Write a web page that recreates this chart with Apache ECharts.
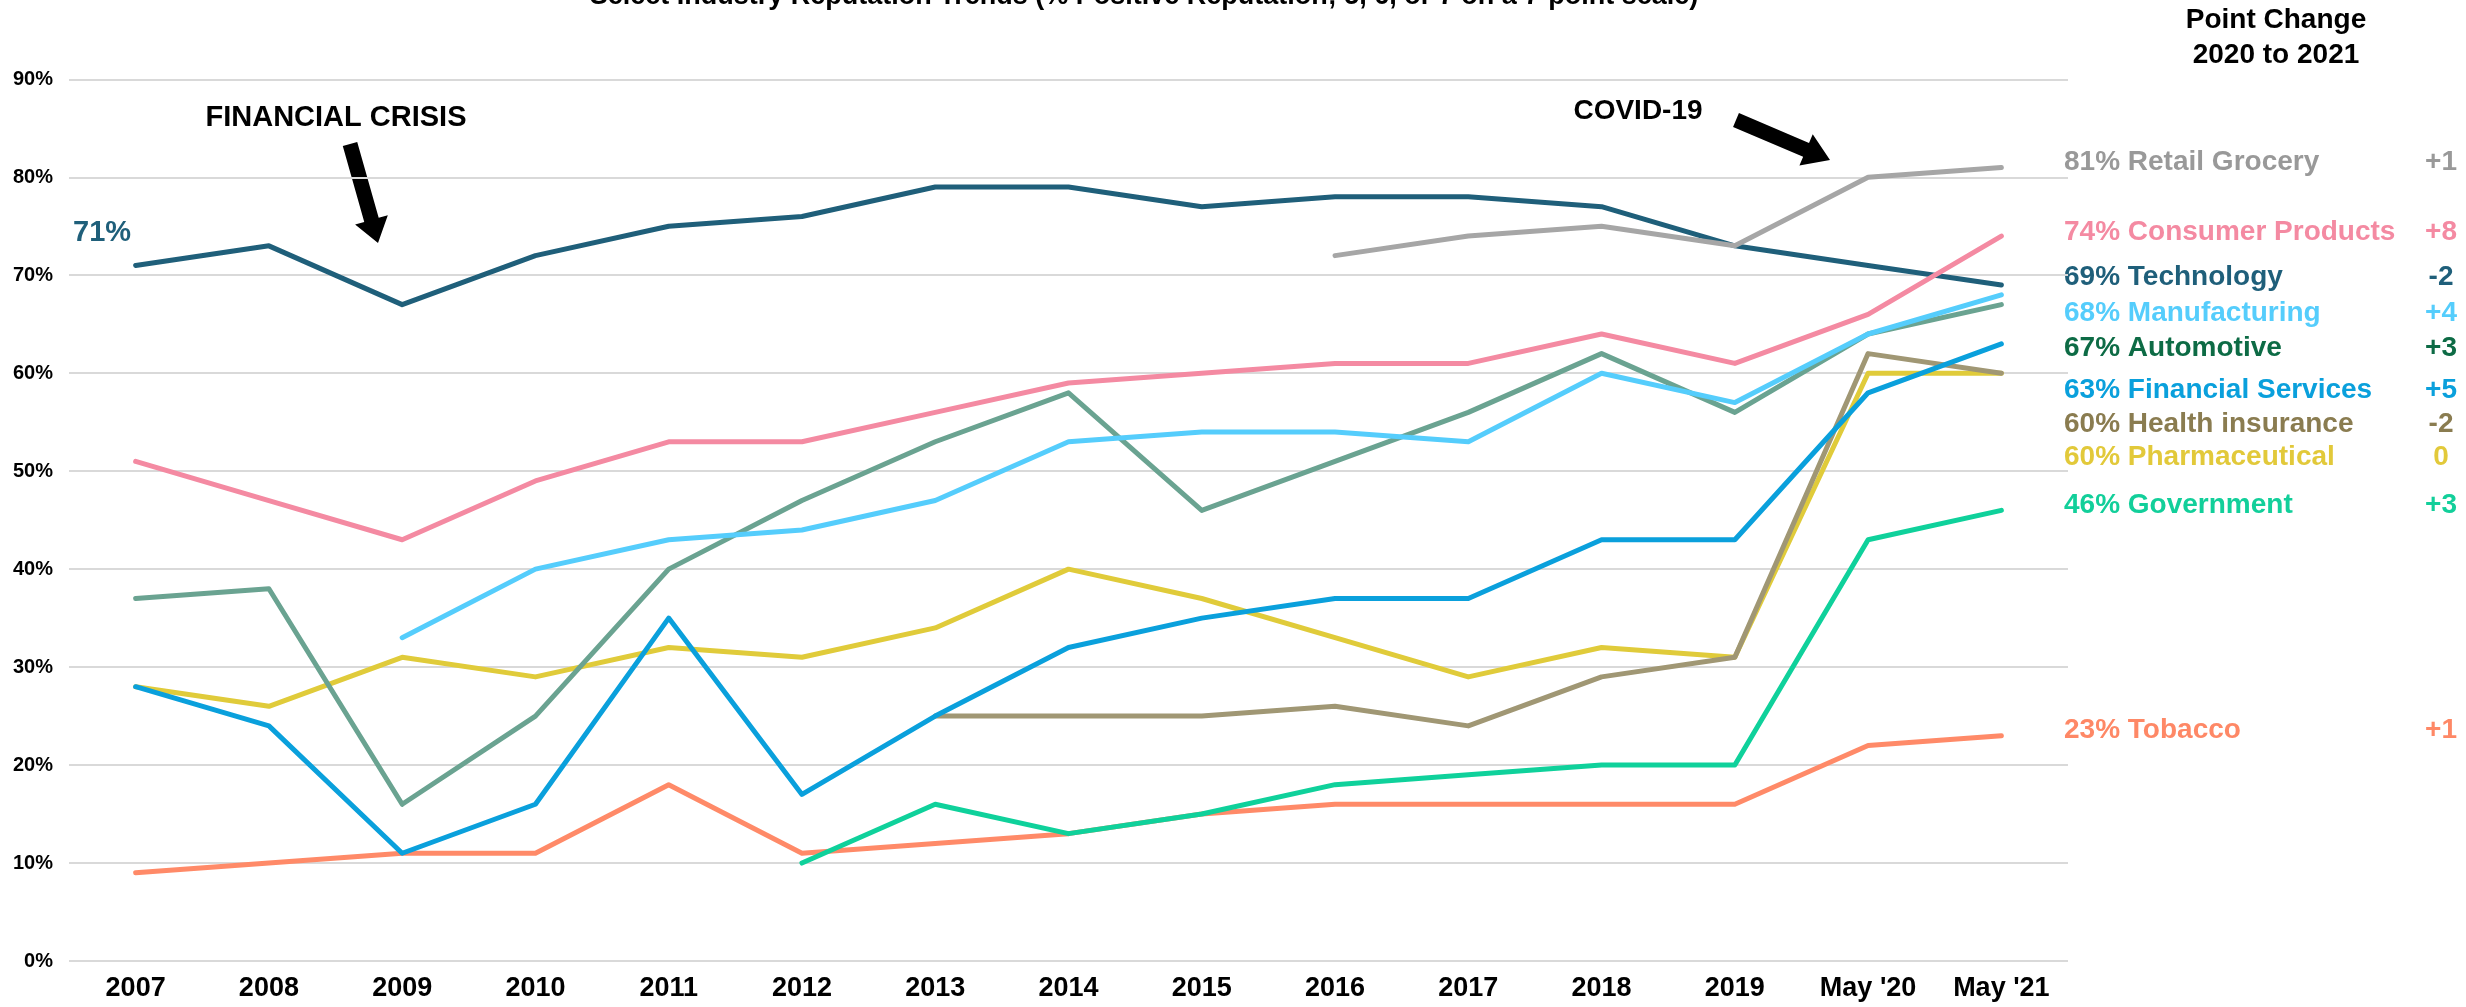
<!DOCTYPE html>
<html>
<head>
<meta charset="utf-8">
<script src="https://cdn.jsdelivr.net/npm/echarts@6/dist/echarts.min.js"></script>
<style>
html,body{margin:0;padding:0;background:#fff;}
#chart{width:2466px;height:1007px;}
</style>
</head>
<body>
<div id="chart"></div>
<script>
const categories = ['2007','2008','2009','2010','2011','2012','2013','2014','2015','2016','2017','2018','2019',"May '20","May '21"];
const yTicks = [0,10,20,30,40,50,60,70,80,90];

const technology        = [71,73,67,72,75,76,79,79,77,78,78,77,73,71,69];
const retailGrocery     = [null,null,null,null,null,null,null,null,null,72,74,75,73,80,81];
const consumerProducts  = [51,47,43,49,53,53,56,59,60,61,61,64,61,66,74];
const manufacturing     = [null,null,33,40,43,44,47,53,54,54,53,60,57,64,68];
const automotive        = [37,38,16,25,40,47,53,58,46,51,56,62,56,64,67];
const financialServices = [28,24,11,16,35,17,25,32,35,37,37,43,43,58,63];
const healthInsurance   = [null,null,null,null,null,null,25,25,25,26,24,29,31,62,60];
const pharmaceutical    = [28,26,31,29,32,31,34,40,37,33,29,32,31,60,60];
const government        = [null,null,null,null,null,10,16,13,15,18,19,20,20,43,46];
const tobacco           = [9,10,11,11,18,11,12,13,15,16,16,16,16,22,23];

const FONT = '"Liberation Sans", Arial, Helvetica, sans-serif';

// name, data, line colour, text colour, label row y (styling)
const seriesDefs = [
  {name:'Tobacco', data:tobacco, line:'#ff8a68', text:'#fe8866', ly:730},
  {name:'Government', data:government, line:'#0fd19b', text:'#12cf9a', ly:505},
  {name:'Pharmaceutical', data:pharmaceutical, line:'#e0cb3a', text:'#e2c93a', ly:457},
  {name:'Health insurance', data:healthInsurance, line:'#a09774', text:'#8a7c50', ly:424},
  {name:'Automotive', data:automotive, line:'#6aa391', text:'#0d6b45', ly:348},
  {name:'Manufacturing', data:manufacturing, line:'#55cdfc', text:'#55cdfc', ly:313},
  {name:'Financial Services', data:financialServices, line:'#0aa0dc', text:'#0aa0dc', ly:390},
  {name:'Technology', data:technology, line:'#1f5f7a', text:'#1f5f7a', ly:277},
  {name:'Retail Grocery', data:retailGrocery, line:'#a6a6a6', text:'#999999', ly:162},
  {name:'Consumer Products', data:consumerProducts, line:'#f48aa2', text:'#f48aa2', ly:232}
];

function arrowPoly(tail, tip, shaftHalf, headHalf, headLen){
  const dx = tip[0]-tail[0], dy = tip[1]-tail[1];
  const L = Math.sqrt(dx*dx+dy*dy);
  const ux = dx/L, uy = dy/L, nx = -uy, ny = ux;
  const bx = tip[0]-ux*headLen, by = tip[1]-uy*headLen;
  return [
    [tail[0]+nx*shaftHalf, tail[1]+ny*shaftHalf],
    [bx+nx*shaftHalf, by+ny*shaftHalf],
    [bx+nx*headHalf, by+ny*headHalf],
    tip,
    [bx-nx*headHalf, by-ny*headHalf],
    [bx-nx*shaftHalf, by-ny*shaftHalf],
    [tail[0]-nx*shaftHalf, tail[1]-ny*shaftHalf]
  ];
}

const graphics = [];
graphics.push({type:'text', x:1144, y:-3, style:{text:'Select Industry Reputation Trends (% Positive Reputation; 5, 6, or 7 on a 7-point scale)', font:'bold 27px '+FONT, fill:'#000', align:'center', verticalAlign:'middle'}});
graphics.push({type:'text', x:2276, y:20, style:{text:'Point Change', font:'bold 28px '+FONT, fill:'#000', align:'center', verticalAlign:'middle'}});
graphics.push({type:'text', x:2276, y:55, style:{text:'2020 to 2021', font:'bold 28px '+FONT, fill:'#000', align:'center', verticalAlign:'middle'}});
graphics.push({type:'text', x:336, y:118, style:{text:'FINANCIAL CRISIS', font:'bold 29px '+FONT, fill:'#000', align:'center', verticalAlign:'middle'}});
graphics.push({type:'text', x:1638, y:111, style:{text:'COVID-19', font:'bold 28px '+FONT, fill:'#000', align:'center', verticalAlign:'middle'}});
graphics.push({type:'text', x:73, y:233, style:{text:technology[0]+'%', font:'bold 29px '+FONT, fill:'#1f5f7a', align:'left', verticalAlign:'middle'}});
graphics.push({type:'polygon', shape:{points:arrowPoly([350,144],[378,243],7.5,17,24)}, style:{fill:'#000'}});
graphics.push({type:'polygon', shape:{points:arrowPoly([1736,120],[1830,160],7.5,17,26)}, style:{fill:'#000'}});

seriesDefs.forEach(d => {
  const n = d.data.length;
  const last = d.data[n-1], prev = d.data[n-2];
  const ch = last - prev;
  const chTxt = ch > 0 ? '+'+ch : String(ch);
  graphics.push({type:'text', x:2064, y:d.ly, style:{text:last+'% '+d.name, font:'bold 28px '+FONT, fill:d.text, align:'left', verticalAlign:'middle'}});
  graphics.push({type:'text', x:2441, y:d.ly, style:{text:chTxt, font:'bold 28px '+FONT, fill:d.text, align:'center', verticalAlign:'middle'}});
});

const chart = echarts.init(document.getElementById('chart'), null, {renderer:'canvas'});
chart.setOption({
  animation:false,
  backgroundColor:'#ffffff',
  grid:{left:69, right:398, top:79.3, bottom:46, containLabel:false},
  xAxis:{
    type:'category', data:categories, boundaryGap:true,
    axisLine:{show:false}, axisTick:{show:false},
    axisLabel:{fontFamily:FONT, fontWeight:'bold', fontSize:27, color:'#000', margin:14, interval:0}
  },
  yAxis:{
    type:'value', min:yTicks[0], max:yTicks[yTicks.length-1], interval:10,
    axisLine:{show:false}, axisTick:{show:false},
    axisLabel:{formatter:'{value}%', fontFamily:FONT, fontWeight:'bold', fontSize:20, color:'#000', margin:16},
    splitLine:{show:true, lineStyle:{color:'#d9d9d9', width:2}}
  },
  series: seriesDefs.map(d => ({
    name:d.name, type:'line', data:d.data, showSymbol:false, symbol:'none',
    connectNulls:false,
    lineStyle:{color:d.line, width:5, cap:'round', join:'round'},
    itemStyle:{color:d.line}
  })),
  graphic: graphics
});
</script>
</body>
</html>
